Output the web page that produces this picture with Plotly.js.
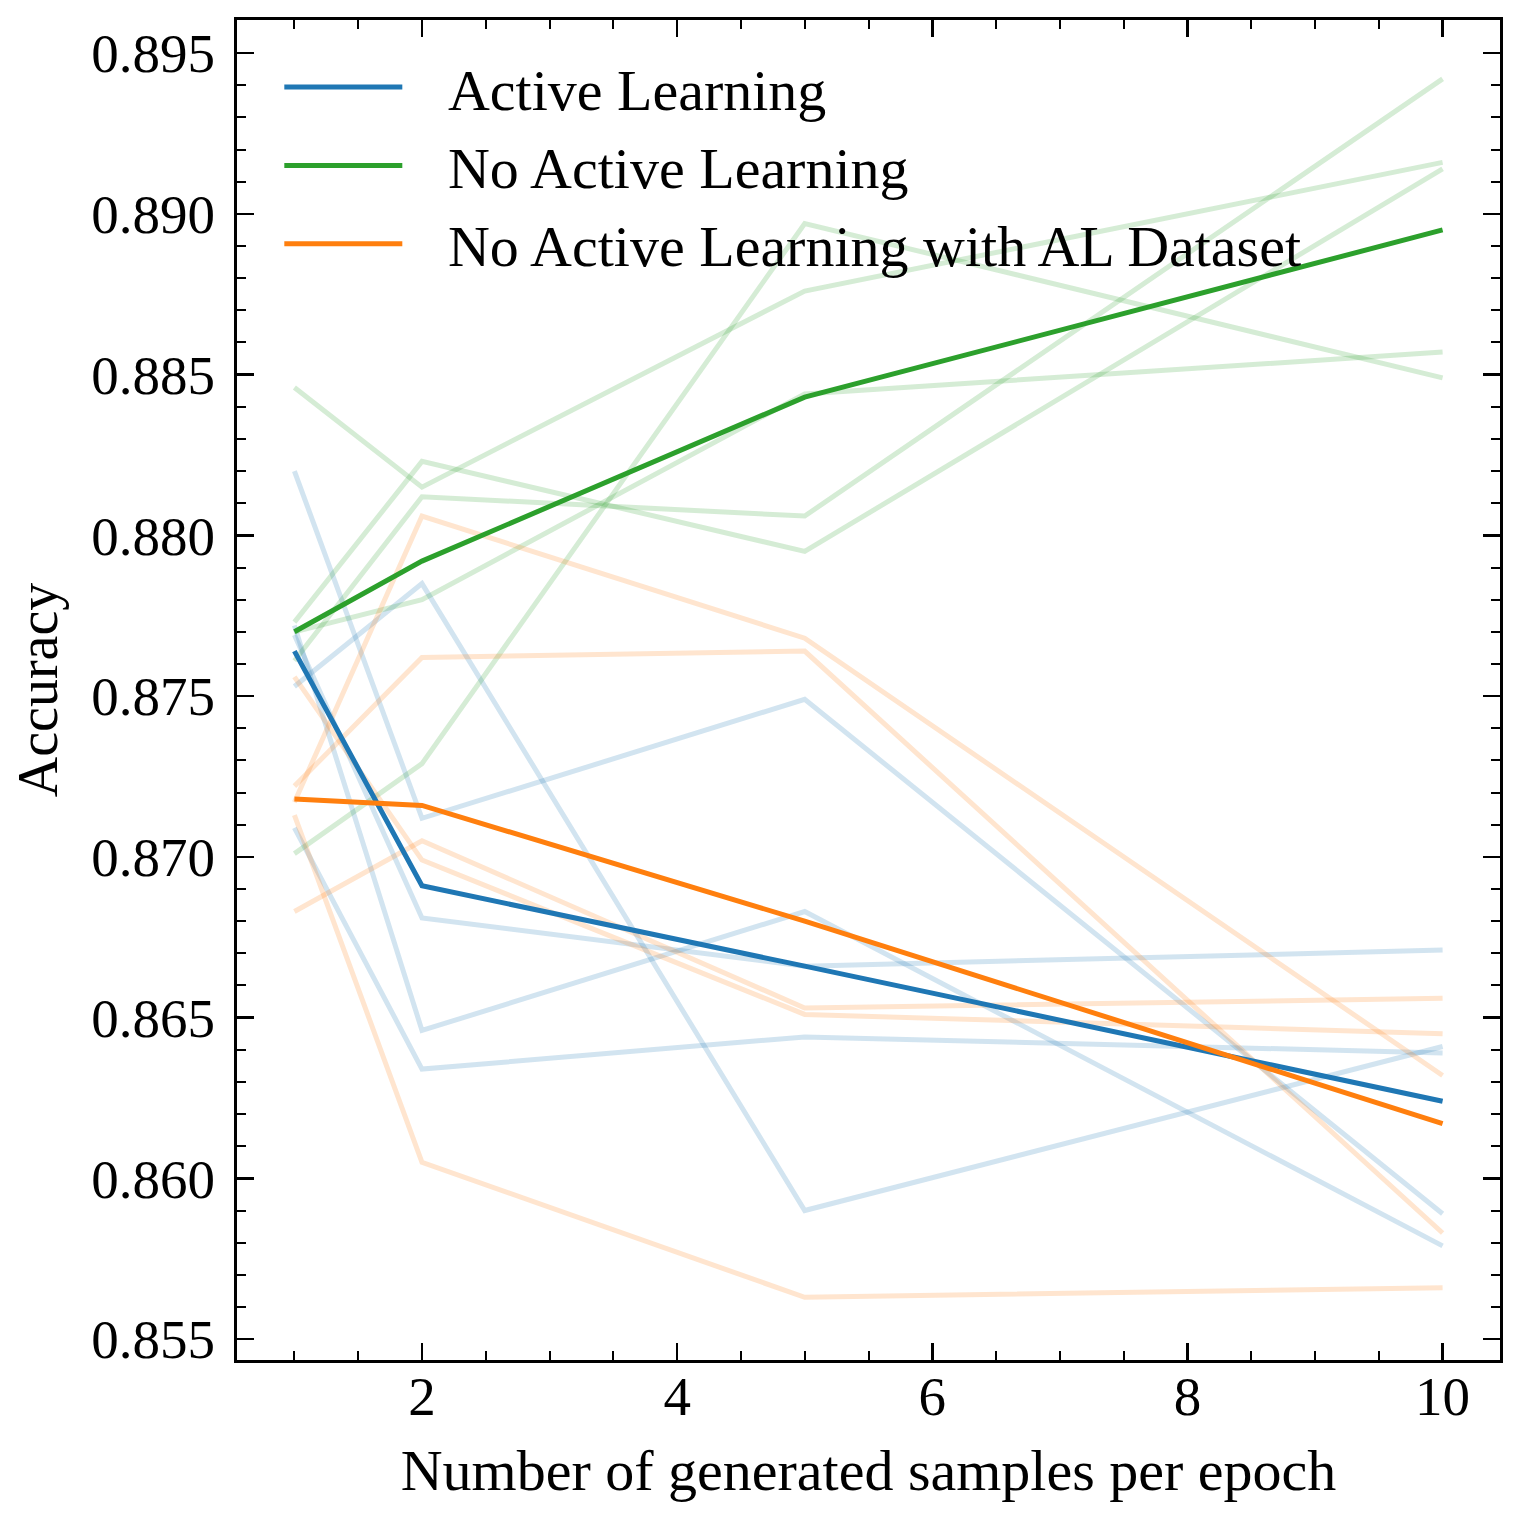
<!DOCTYPE html>
<html>
<head>
<meta charset="utf-8">
<script src="https://cdn.plot.ly/plotly-3.0.1.min.js"></script>
<style>
  html, body { margin: 0; padding: 0; background: #fff; }
  #graph { width: 1519px; height: 1520px; }
</style>
</head>
<body>
<div id="graph"></div>
<script>
// x positions: generated samples per epoch
const samples = [1, 2, 5, 10];

// individual runs (faint lines)
const alRuns = [
    [0.8820, 0.8712, 0.8749, 0.8589],
    [0.8753, 0.8785, 0.8590, 0.8641],
    [0.8772, 0.8646, 0.8683, 0.8579],
    [0.8769, 0.8681, 0.8666, 0.8671],
    [0.8709, 0.8634, 0.8644, 0.8639]
];
const noAlRuns = [
    [0.8846, 0.8815, 0.8876, 0.8916],
    [0.8773, 0.8823, 0.8795, 0.8914],
    [0.8761, 0.8812, 0.8806, 0.8942],
    [0.8770, 0.8780, 0.8844, 0.8857],
    [0.8701, 0.8729, 0.8897, 0.8849]
];
const noAlDataRuns = [
    [0.8756, 0.8699, 0.8651, 0.8645],
    [0.8722, 0.8762, 0.8764, 0.8583],
    [0.8717, 0.8806, 0.8768, 0.8632],
    [0.8713, 0.8605, 0.8563, 0.8566],
    [0.8683, 0.8705, 0.8653, 0.8656]
];

// mean lines
const alMean = [0.8764, 0.8691, 0.8666, 0.8624];
const noAlMean = [0.8770, 0.8792, 0.8843, 0.8895];
const noAlDataMean = [0.8718, 0.8716, 0.8680, 0.8617];

const names = ['Active Learning', 'No Active Learning', 'No Active Learning with AL Dataset'];
const xTitle = 'Number of generated samples per epoch';
const yTitle = 'Accuracy';

const blue = '#1f77b4';
const green = '#2ca02c';
const orange = '#ff7f0e';

// a bit of room between legend line and label
const gap = '\u00a0\u00a0\u2009';

function faint(runs, color) {
    return runs.map(function(r) {
        return {
            x: samples,
            y: r,
            mode: 'lines',
            type: 'scatter',
            opacity: 0.2,
            showlegend: false,
            hoverinfo: 'skip',
            line: {color: color, width: 5}
        };
    });
}

function meanTrace(y, name, color, rank) {
    return {
        x: samples,
        y: y,
        mode: 'lines',
        type: 'scatter',
        name: gap + name,
        legendrank: rank,
        line: {color: color, width: 5}
    };
}

var data = []
    .concat(faint(alRuns, blue))
    .concat(faint(noAlRuns, green))
    .concat(faint(noAlDataRuns, orange))
    .concat([
        meanTrace(noAlMean, names[1], green, 2),
        meanTrace(alMean, names[0], blue, 1),
        meanTrace(noAlDataMean, names[2], orange, 3)
    ]);

const fontFamily = 'Liberation Serif, serif';

const layout = {
    width: 1519,
    height: 1520,
    paper_bgcolor: '#fff',
    plot_bgcolor: '#fff',
    font: {family: fontFamily, size: 55, color: '#000'},
    margin: {l: 237, r: 19, t: 20, b: 160, pad: 0},
    showlegend: true,
    legend: {
        x: 0.0335,
        y: 0.983,
        xanchor: 'left',
        yanchor: 'top',
        bgcolor: 'rgba(0,0,0,0)',
        borderwidth: 0,
        itemwidth: 118,
        font: {family: fontFamily, size: 58}
    },
    xaxis: {
        range: [0.55, 10.45],
        tick0: 0,
        dtick: 2,
        ticks: 'inside',
        ticklen: 17,
        tickwidth: 2.5,
        tickcolor: '#000',
        showline: true,
        linewidth: 3,
        linecolor: '#000',
        mirror: 'allticks',
        showgrid: false,
        zeroline: false,
        ticklabelstandoff: -14,
        minor: {dtick: 0.5, ticks: 'inside', ticklen: 9, tickwidth: 2, tickcolor: '#000', showgrid: false},
        title: {text: xTitle, standoff: 24, font: {family: fontFamily, size: 58}}
    },
    yaxis: {
        range: [0.85435, 0.89603],
        tick0: 0.855,
        dtick: 0.005,
        tickformat: '.3f',
        ticks: 'inside',
        ticklen: 17,
        tickwidth: 2.5,
        tickcolor: '#000',
        showline: true,
        linewidth: 3,
        linecolor: '#000',
        mirror: 'allticks',
        showgrid: false,
        zeroline: false,
        ticklabelstandoff: 8,
        minor: {dtick: 0.001, ticks: 'inside', ticklen: 9, tickwidth: 2, tickcolor: '#000', showgrid: false},
        title: {text: yTitle, standoff: 16, font: {family: fontFamily, size: 56}}
    }
};

Plotly.newPlot('graph', data, layout, {staticPlot: true});
</script>
</body>
</html>
